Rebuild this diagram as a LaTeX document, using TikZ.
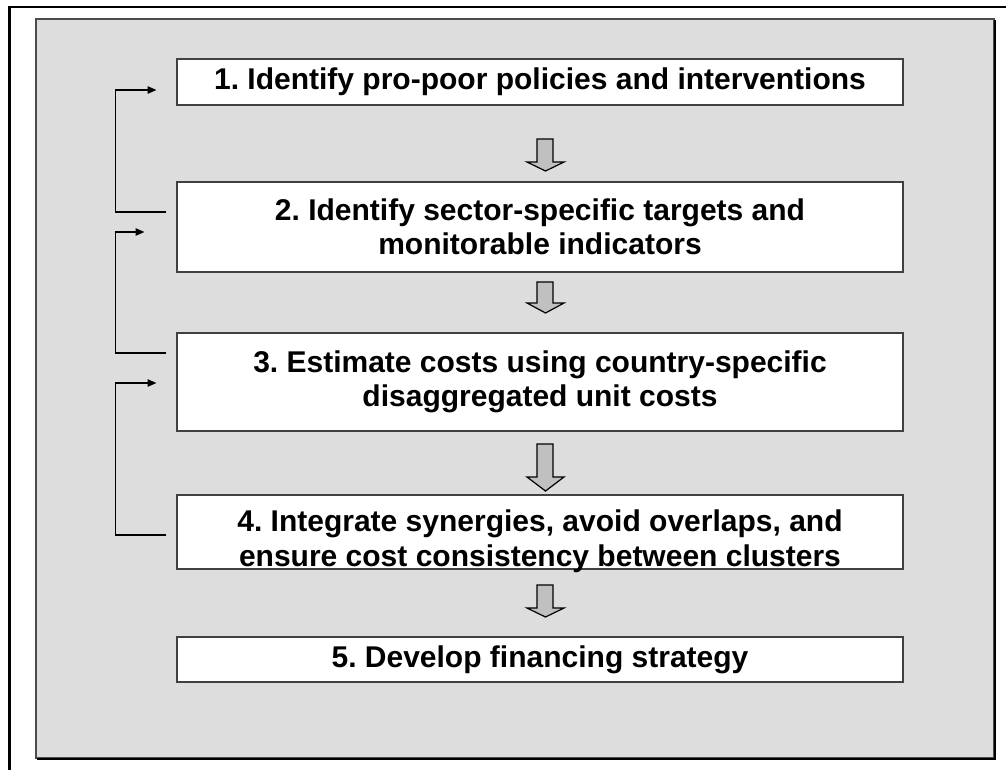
\documentclass[tikz,border=0pt]{standalone}
\usepackage{fontspec}
\setmainfont{Liberation Sans}
\usetikzlibrary{arrows.meta,calc,shadows}
\frenchspacing
\definecolor{panelgray}{HTML}{DDDDDD}
\definecolor{arrowgray}{HTML}{C0C0C0}
% hollow-looking down arrow: #1 top of shaft, #2 start of head, #3 tip
\newcommand\downblock[3]{%
  \draw[blockarrow] (537,#1) -- (553,#1) -- (553,#2) -- (564,#2) -- (545.5,#3)
    -- (527,#2) -- (537,#2) -- cycle;}
\begin{document}
\begin{tikzpicture}[x=0.75pt,y=-0.75pt,
  stepbox/.style={draw=black!75, line width=0.9pt, fill=white,
    minimum width=544.5pt, inner sep=0pt, align=center,
    font=\bfseries\fontsize{22.5pt}{25.5pt}\selectfont,
    drop shadow={shadow xshift=0.9pt, shadow yshift=-0.9pt, fill=black!50, opacity=1}},
  steptext/.style={inner sep=0pt, align=center,
    font=\bfseries\fontsize{22.5pt}{26pt}\selectfont},
  blockarrow/.style={draw=black, line width=0.9pt, fill=arrowgray, line join=miter},
  fb/.style={draw=black, line width=0.8pt, -{Triangle[length=6.5pt,width=5.5pt]}}]
\useasboundingbox (0,0) rectangle (1006,769);

% outer frame, running off the page at right and bottom
\draw[line width=1.6pt] (9.5,775) -- (9.5,7) -- (1012,7);

% grey panel
\draw[fill=panelgray, draw=black!70, line width=1.1pt] (36,19) rectangle (994,758);
\draw[black, line width=0.9pt] (37,759) -- (995,759) -- (995,20);

% steps
\node[stepbox, minimum height=34.5pt] (b1) at (540,82)
  {1. Identify pro-poor policies and interventions};
\node[stepbox, minimum height=67.5pt] (b2) at (540,227)
  {2. Identify sector-specific targets and\\monitorable indicators};
\node[stepbox, minimum height=73.5pt] (b3) at (540,382)
  {3. Estimate costs using country-specific\\disaggregated unit costs};
\node[stepbox, minimum height=55.5pt] (b4) at (540,532) {};
\node[steptext] (t4) at (540,541)
  {4. Integrate synergies, avoid overlaps, and\\ensure cost consistency between clusters};
\node[stepbox, minimum height=33.75pt] (b5) at (540,659.5)
  {5. Develop financing strategy};

% flow arrows between steps
\downblock{139}{162}{171}
\downblock{282}{303}{313}
\downblock{444}{477}{491}
\downblock{585}{608}{617}

% feedback loops on the left
\coordinate (c1s) at ($(b2.west)+(-10,-15)$);
\coordinate (c1e) at ($(b1.west)+(-20,8)$);
\coordinate (c2s) at ($(b3.west)+(-10,-29)$);
\coordinate (c2e) at ($(b2.west)+(-32,5)$);
\coordinate (c3s) at ($(b4.west)+(-10,3)$);
\coordinate (c3e) at ($(b3.west)+(-20,1)$);
\draw[fb] (c1s) -- ++(-51,0) |- (c1e);
\draw[fb] (c2s) -- ++(-51,0) |- (c2e);
\draw[fb] (c3s) -- ++(-51,0) |- (c3e);
\end{tikzpicture}
\end{document}
